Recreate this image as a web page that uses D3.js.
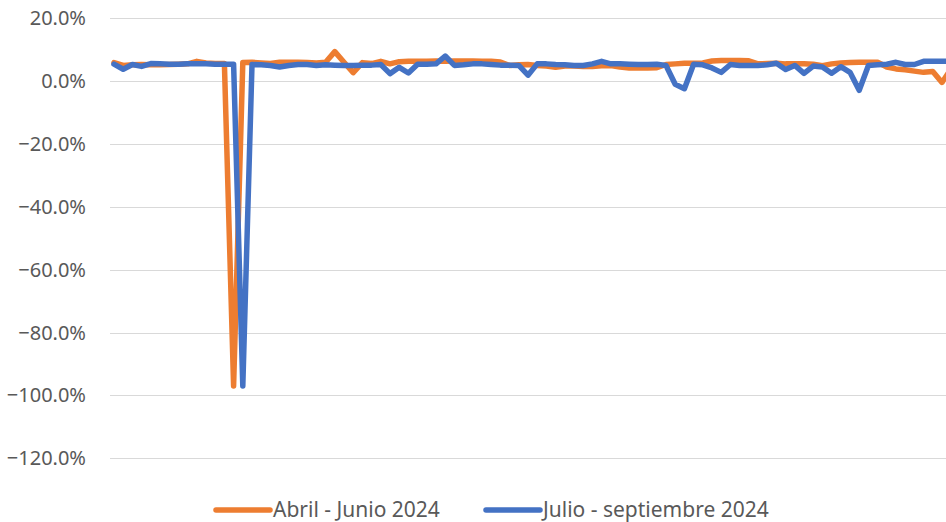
<!DOCTYPE html>
<html>
<head>
<meta charset="utf-8">
<script src="https://cdn.jsdelivr.net/npm/d3@7"></script>
<style>
  body { margin: 0; background: #fff; }
  text { font-family: "Noto Sans", "Open Sans", sans-serif; fill: #595959; }
</style>
</head>
<body>
<script>
width = 946;
height = 522;

// day of quarter (1..92), one value per day, in percent
days = d3.range(1, 93);
abril_junio = [5.9, 5.0, 5.2, 5.3, 5.2, 5.2, 5.3, 5.4, 5.5, 6.3,
  5.8, 5.6, 5.6, -97.0, 5.9, 6.0, 5.8, 5.6, 6.0, 6.0,
  6.0, 5.9, 5.8, 6.0, 9.4, 6.0, 2.7, 5.9, 5.6, 6.3,
  5.5, 6.2, 6.3, 6.3, 6.3, 6.4, 6.3, 6.4, 6.4, 6.4,
  6.3, 6.3, 6.1, 5.0, 5.2, 5.3, 5.0, 4.8, 4.4, 4.8,
  4.8, 4.7, 4.7, 4.9, 5.0, 4.5, 4.2, 4.2, 4.2, 4.3,
  5.3, 5.5, 5.7, 5.7, 5.8, 6.4, 6.6, 6.6, 6.6, 6.5,
  5.5, 5.6, 5.7, 5.5, 5.5, 5.5, 5.4, 4.9, 5.5, 5.8,
  5.9, 6.0, 6.0, 6.0, 4.5, 3.9, 3.6, 3.2, 2.8, 3.1,
  -0.4, 4.0];
julio_sept = [5.4, 3.8, 5.3, 4.7, 5.6, 5.5, 5.4, 5.4, 5.5, 5.5,
  5.5, 5.4, 5.4, 5.4, -97.0, 5.3, 5.2, 5.0, 4.5, 5.0,
  5.3, 5.3, 5.0, 5.2, 5.1, 5.0, 5.0, 5.1, 5.1, 5.3,
  2.4, 4.4, 2.6, 5.4, 5.4, 5.5, 8.0, 5.0, 5.2, 5.5,
  5.5, 5.3, 5.1, 5.1, 5.0, 1.9, 5.5, 5.5, 5.3, 5.2,
  5.0, 5.0, 5.5, 6.3, 5.5, 5.5, 5.4, 5.3, 5.3, 5.4,
  5.0, -1.0, -2.4, 5.4, 5.2, 4.2, 2.8, 5.3, 5.0, 5.0,
  5.0, 5.2, 5.7, 3.7, 5.0, 2.5, 4.8, 4.5, 2.5, 4.6,
  2.8, -2.9, 5.0, 5.2, 5.4, 6.0, 5.3, 5.3, 6.3, 6.3,
  6.3, 6.3];
y_ticks = [20, 0, -20, -40, -60, -80, -100, -120];
series = [
  {"name": "Abril - Junio 2024", "values": abril_junio, "color": "#ED7D31"},
  {"name": "Julio - septiembre 2024", "values": julio_sept, "color": "#4472C4"}
];

svg_elem = d3.select("body")
  .append("svg")
  .attr("width", width)
  .attr("height", height);

// plot runs past the right edge, picture is cut there
x = d3.scalePoint().domain(days).range([114, 951.2]);
y = d3.scaleLinear().domain([-120, 20]).range([458.3, 18.3]);

grid = svg_elem.append("g");
grid.selectAll("line")
  .data(y_ticks)
  .enter().append("line")
  .attr("x1", 110).attr("x2", width)
  .attr("y1", function(d) { return Math.round(y(d)) + 0.5; })
  .attr("y2", function(d) { return Math.round(y(d)) + 0.5; })
  .attr("stroke", "#D9D9D9")
  .attr("stroke-width", 1);

grid.selectAll("text")
  .data(y_ticks)
  .enter().append("text")
  .attr("x", 86)
  .attr("y", function(d) { return y(d); })
  .attr("dy", "0.35em")
  .attr("text-anchor", "end")
  .style("font-size", "20px")
  .text(function(d) { return d3.format(".1f")(d) + "%"; });

line = d3.line()
  .x(function(d, i) { return x(days[i]); })
  .y(function(d) { return y(d); });

svg_elem.selectAll("path.serie")
  .data(series)
  .enter().append("path")
  .attr("class", "serie")
  .attr("d", function(d) { return line(d.values); })
  .attr("fill", "none")
  .attr("stroke", function(d) { return d.color; })
  .attr("stroke-width", 5.5)
  .attr("stroke-linejoin", "round")
  .attr("stroke-linecap", "round");

// legend
legend_x = [213, 483];
legend = svg_elem.selectAll("g.legend")
  .data(series)
  .enter().append("g")
  .attr("class", "legend")
  .attr("transform", function(d, i) { return "translate(" + legend_x[i] + ",510)"; });
legend.append("line")
  .attr("x1", 3).attr("x2", 57)
  .attr("stroke", function(d) { return d.color; })
  .attr("stroke-width", 5.5)
  .attr("stroke-linecap", "round");
legend.append("text")
  .attr("x", 60)
  .attr("dy", "0.35em")
  .style("font-size", "21px")
  .text(function(d) { return d.name; });
</script>
</body>
</html>
